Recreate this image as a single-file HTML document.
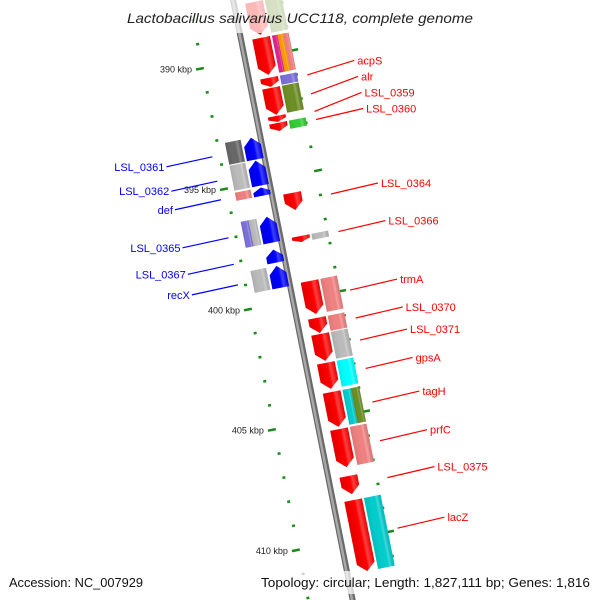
<!DOCTYPE html>
<html><head><meta charset="utf-8"><style>
html,body{margin:0;padding:0;background:#fff;overflow:hidden;width:600px;height:600px;}
svg{display:block;overflow:hidden;font-family:"Liberation Sans","DejaVu Sans",sans-serif;}
</style></head><body>
<svg id="chart" width="600" height="600" viewBox="0 0 600 600" xmlns="http://www.w3.org/2000/svg">
<defs>
<clipPath id="frame"><rect x="0" y="0" width="600" height="600"/></clipPath>
<linearGradient id="gRed" x1="0" y1="0" x2="1" y2="0"><stop offset="0" stop-color="#e00000"/><stop offset="0.55" stop-color="#ff0000"/><stop offset="0.7" stop-color="#ff4040"/><stop offset="1" stop-color="#e80000"/></linearGradient>
<linearGradient id="gBlue" x1="0" y1="0" x2="1" y2="0"><stop offset="0" stop-color="#0000dd"/><stop offset="0.55" stop-color="#0000ff"/><stop offset="0.7" stop-color="#4040ff"/><stop offset="1" stop-color="#0000e0"/></linearGradient>
<linearGradient id="gShade" x1="0" y1="0" x2="1" y2="0"><stop offset="0" stop-color="#000" stop-opacity="0.08"/><stop offset="0.6" stop-color="#fff" stop-opacity="0"/><stop offset="0.75" stop-color="#fff" stop-opacity="0.25"/><stop offset="1" stop-color="#000" stop-opacity="0.05"/></linearGradient>
</defs>
<g clip-path="url(#frame)">
<g id="map" transform="translate(249,59) rotate(-11.26)"></g>
<g id="screen"></g>
</g>
<rect x="0" y="0" width="600" height="33" fill="#fff" opacity="0.72"/>
<rect x="0" y="571" width="600" height="23" fill="#fff" opacity="0.72"/>
<text x="300" y="23" text-anchor="middle" font-size="14" font-style="italic" fill="#222" textLength="346" lengthAdjust="spacingAndGlyphs">Lactobacillus salivarius UCC118, complete genome</text>
<text x="9" y="587" font-size="13" fill="#111" textLength="134" lengthAdjust="spacingAndGlyphs">Accession: NC_007929</text>
<text x="590" y="587" text-anchor="end" font-size="13" fill="#111" textLength="329" lengthAdjust="spacingAndGlyphs">Topology: circular; Length: 1,827,111 bp; Genes: 1,816</text>
</svg>
<script>
// forward-strand genes (kbp)
const fwdStart = [387.76,389.25,390.91,391.33,392.49,392.78,395.69,397.48,399.35,400.88,401.55,402.75,403.96,405.50,407.45,408.45];
const fwdEnd   = [389.13,390.79,391.29,392.45,392.74,393.12,396.40,397.73,400.72,401.51,402.67,403.83,405.41,407.08,408.20,411.40];
const fwdCog   = [["#6b8e23"],["#e0208f","#ff9900","#f08080"],["#7b6fd8"],["#6b8e23"],[],["#33cc33"],[],["#bbbbbb"],["#f08080"],["#f08080"],["#bbbbbb"],["#00ffff"],["#00cccc","#6b8e23"],["#f08080"],[],["#00cccc"]];
const fwdLabel = ["","","acpS","alr","LSL_0359","LSL_0360","LSL_0364","LSL_0366","trmA","LSL_0370","LSL_0371","gpsA","tagH","prfC","LSL_0375","lacZ"];
// reverse-strand genes (kbp)
const revStart = [393.16,394.11,395.23,396.44,397.81,398.48];
const revEnd   = [394.07,395.15,395.57,397.52,398.35,399.39];
const revCog   = [["#666666"],["#bbbbbb"],["#f08080"],["#7b6fd8","#bbbbbb"],[],["#bbbbbb"]];
const revLabel = ["LSL_0361","LSL_0362","def","LSL_0365","LSL_0367","recX"];
// ticks
const tickStart = 386, tickEnd = 413;
const majorTicks = [390,395,400,405,410];

const NS="http://www.w3.org/2000/svg";
const map=document.getElementById('map'), scr=document.getElementById('screen');
const ORIGIN=390, PX=24.55, A=11.26*Math.PI/180, OX=249, OY=59;
const u=k=>(k-ORIGIN)*PX;
function toScreen(uu,v){return [OX+uu*Math.sin(A)+v*Math.cos(A), OY+uu*Math.cos(A)-v*Math.sin(A)];}
function mk(tag,attrs,parent){const e=document.createElementNS(NS,tag);for(const k in attrs)e.setAttribute(k,attrs[k]);parent.appendChild(e);return e;}

// backbone
let bb=mk('line',{x1:-4,y1:-100,x2:-4,y2:560,stroke:'#6a6a6a','stroke-width':6},map);


let bb2=mk('line',{x1:-4.5,y1:-100,x2:-4.5,y2:560,stroke:'#a8a8a8','stroke-width':2.5},map);



// ticks
for(let k=tickStart;k<=tickEnd;k++){
  const major=majorTicks.includes(k);
  const len=major?8:3;
  const tl=mk('line',{x1:-46-len,y1:u(k),x2:-46,y2:u(k),stroke:'#1a8a1a','stroke-width':2.5},map);
  
  
  const tr=mk('line',{x1:42,y1:u(k),x2:42+len,y2:u(k),stroke:'#1a8a1a','stroke-width':2.5},map);
  
  
  if(major){
    const p=toScreen(u(k),-54);
    const t=mk('text',{x:p[0]-4,y:p[1]+3,'text-anchor':'end','font-size':9,fill:'#222'},scr);
    t.textContent=k+' kbp';
    
    
  }
}

function arrow(s,e,v0,v1,dir,fill,name){
  const a=u(s), b=u(e), h=Math.min(8,(b-a)*0.5), m=(v0+v1)/2;
  let pts;
  if(dir>0) pts=[[v0,a],[v1,a],[v1,b-h],[m,b],[v0,b-h]];
  else pts=[[v0,b],[v1,b],[v1,a+h],[m,a],[v0,a+h]];
  const p=mk('polygon',{points:pts.map(q=>q.join(',')).join(' '),fill:fill},map);
  
  
}
function cog(s,e,v0,v1,cols,name){
  const w=(v1-v0)/cols.length;
  cols.forEach((c,i)=>{
    const r=mk('rect',{x:v0+i*w,y:u(s),width:w,height:u(e)-u(s),fill:c},map);
    
    
    mk('rect',{x:v0+i*w,y:u(s),width:w,height:u(e)-u(s),fill:'url(#gShade)'},map);
  });
}
function leaderPoints(starts,ends,labels,side){
  const out=[];
  for(let i=0;i<starts.length;i++){
    if(!labels[i]){out.push(null);continue;}
    const p=toScreen(u((starts[i]+ends[i])/2),side>0?54:-55);
    const q=side>0?[p[0]+47,p[1]-11]:[p[0]-46,p[1]+10];
    out.push({p,q});
  }
  // push overlapping labels upward (stack from bottom)
  let next=null;
  for(let i=out.length-1;i>=0;i--){
    if(!out[i])continue;
    if(next!==null && out[i].q[1]>next-16) out[i].q[1]=next-16;
    next=out[i].q[1];
  }
  return out;
}
function label(pt,side,text,color,name){
  const {p,q}=pt;
  const l=mk('line',{x1:p[0],y1:p[1],x2:q[0],y2:q[1],stroke:color,'stroke-width':1.2},scr);
  
  
  const t=mk('text',{x:side>0?q[0]+3:q[0]-2,y:q[1]+4,'text-anchor':side>0?'start':'end','font-size':11,fill:color},scr);
  t.textContent=text;
  
  
}

const fwdPts=leaderPoints(fwdStart,fwdEnd,fwdLabel,1);
for(let i=0;i<fwdStart.length;i++){
  arrow(fwdStart[i],fwdEnd[i],7,25,1,'url(#gRed)','gene-fwd-'+i);
  if(fwdCog[i].length) cog(fwdStart[i],fwdEnd[i],27,44,fwdCog[i],'cog-fwd-'+i);
  if(fwdPts[i]) label(fwdPts[i],1,fwdLabel[i],'#ff0000','gene-'+fwdLabel[i].toLowerCase().replace('_','-'));
}
const revPts=leaderPoints(revStart,revEnd,revLabel,-1);
for(let i=0;i<revStart.length;i++){
  arrow(revStart[i],revEnd[i],-22,-5,-1,'url(#gBlue)','gene-rev-'+i);
  if(revCog[i].length) cog(revStart[i],revEnd[i],-40,-24,revCog[i],'cog-rev-'+i);
  label(revPts[i],-1,revLabel[i],'#0000ff','gene-'+revLabel[i].toLowerCase().replace('_','-'));
}
</script>
</body></html>
